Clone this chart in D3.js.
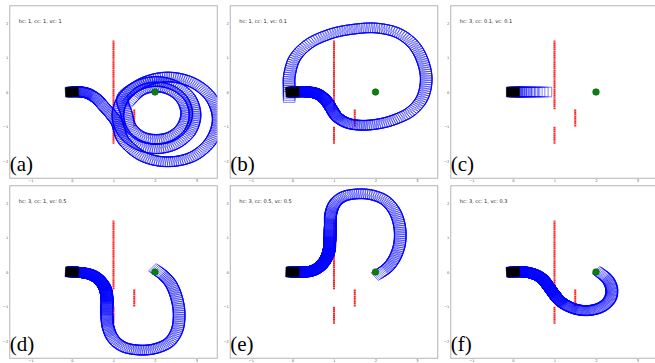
<!DOCTYPE html>
<html>
<head>
<meta charset="utf-8">
<script src="https://cdn.jsdelivr.net/npm/d3@7"></script>
<style>
  body { margin: 0; background: #fff; }
  svg { display: block; font-family: "DejaVu Sans", sans-serif; }
</style>
</head>
<body>
<div id="chart"></div>
<script>
const panelLabels = ['(a)', '(b)', '(c)', '(d)', '(e)', '(f)'];
const panelTitles = [
  'hc: 1, cc: 1, vc: 1',
  'hc: 1, cc: 1, vc: 0.1',
  'hc: 3, cc: 0.1, vc: 0.1',
  'hc: 3, cc: 1, vc: 0.5',
  'hc: 3, cc: 0.5, vc: 0.5',
  'hc: 3, cc: 1, vc: 0.3',
];
const xTicks = [-1, 0, 1, 2, 3];
const yTicks = [-2, -1, 0, 1, 2];
const target = [2, 0];
// wall pieces: [x, yFrom, yTo]
const obstacles = [[1, -0.5, 1.5], [1, -1.5, -1], [1.5, -1, -0.5]];

// trajectory waypoints: [x, y, spacing between car footprints]
const trajA = [
  [0, 0, 0.008], [0.18, 0, 0.01], [0.36, -0.04, 0.015], [0.57, -0.18, 0.022],
  [0.76, -0.41, 0.03], [0.93, -0.64, 0.036], [1.08, -0.89, 0.04], [1.24, -1.39, 0.045],
  [1.70, -1.86, 0.05], [2.30, -2.02, 0.05], [2.92, -1.86, 0.05], [3.36, -1.39, 0.05],
  [3.52, -0.79, 0.05], [3.36, -0.19, 0.05], [2.92, 0.26, 0.05], [2.30, 0.43, 0.05],
  [1.68, 0.25, 0.05], [1.24, -0.19, 0.05], [1.11, -0.67, 0.05], [1.23, -1.15, 0.05],
  [1.57, -1.51, 0.05], [2.03, -1.64, 0.05], [2.49, -1.51, 0.05], [2.84, -1.15, 0.05],
  [2.96, -0.67, 0.05], [2.84, -0.18, 0.05], [2.49, 0.17, 0.05], [2.03, 0.30, 0.05],
  [1.57, 0.17, 0.05], [1.23, -0.18, 0.05], [1.31, -0.62, 0.05], [1.41, -1.0, 0.05],
  [1.67, -1.28, 0.05], [2.03, -1.37, 0.05], [2.39, -1.28, 0.05], [2.66, -1.0, 0.05],
  [2.76, -0.62, 0.05], [2.66, -0.24, 0.05], [2.39, 0.04, 0.05], [2.03, 0.14, 0.05],
  [1.67, 0.04, 0.05], [1.41, -0.24, 0.05],
];
const trajB = [
  [0, 0, 0.006], [0.35, 0, 0.006], [0.59, -0.06, 0.007], [0.79, -0.23, 0.008],
  [0.93, -0.47, 0.01], [1.07, -0.71, 0.015], [1.31, -0.89, 0.025], [1.63, -0.96, 0.035],
  [2.03, -0.93, 0.045], [2.43, -0.81, 0.05], [2.84, -0.57, 0.055], [3.12, -0.18, 0.055],
  [3.22, 0.35, 0.055], [3.14, 0.88, 0.055], [2.92, 1.36, 0.055], [2.55, 1.70, 0.055],
  [2.03, 1.85, 0.055], [1.47, 1.82, 0.055], [0.91, 1.68, 0.055], [0.39, 1.39, 0.055],
  [0.06, 0.98, 0.055], [-0.07, 0.49, 0.055], [-0.08, 0.06, 0.055], [-0.08, -0.18, 0.055],
];
const trajC = [[0, 0, 0.012], [0.35, 0, 0.03], [0.78, 0, 0.085]];
const trajD = [
  [0, 0, 0.006], [0.22, -0.02, 0.006], [0.47, -0.09, 0.006], [0.65, -0.23, 0.006],
  [0.79, -0.47, 0.007], [0.84, -0.76, 0.009], [0.84, -1.20, 0.02], [0.87, -1.58, 0.03],
  [0.99, -1.92, 0.04], [1.23, -2.16, 0.04], [1.63, -2.26, 0.04], [2.03, -2.21, 0.042],
  [2.35, -2.02, 0.045], [2.53, -1.68, 0.045], [2.58, -1.20, 0.045], [2.51, -0.71, 0.045],
  [2.37, -0.33, 0.04], [2.19, -0.09, 0.035], [2.05, 0.04, 0.035],
];
const trajE = [
  [0, 0, 0.006], [0.22, 0, 0.006], [0.44, 0.03, 0.006], [0.63, 0.14, 0.006],
  [0.77, 0.32, 0.006], [0.87, 0.59, 0.007], [0.90, 0.93, 0.009], [0.91, 1.31, 0.015],
  [0.93, 1.70, 0.025], [1.03, 1.99, 0.035], [1.23, 2.18, 0.04], [1.55, 2.26, 0.045],
  [1.91, 2.23, 0.045], [2.23, 2.07, 0.045], [2.46, 1.75, 0.045], [2.58, 1.31, 0.045],
  [2.58, 0.83, 0.045], [2.47, 0.43, 0.042], [2.30, 0.14, 0.04], [2.10, -0.04, 0.035],
];
const trajF = [
  [0, 0, 0.006], [0.25, 0, 0.006], [0.49, -0.06, 0.006], [0.69, -0.19, 0.006],
  [0.85, -0.41, 0.006], [0.99, -0.64, 0.007], [1.13, -0.83, 0.008], [1.33, -0.99, 0.012],
  [1.61, -1.10, 0.02], [1.90, -1.10, 0.025], [2.16, -0.99, 0.028], [2.34, -0.76, 0.03],
  [2.37, -0.47, 0.03], [2.27, -0.21, 0.028], [2.11, -0.04, 0.025],
];
const trajectories = [trajA, trajB, trajC, trajD, trajE, trajF];

const width = 655, height = 363;
const panelW = 207.5, panelH = 172.5;
const colX = [9.75, 230.25, 450.75];
const rowY = [5.75, 185.75];
const carLen = 0.32, carWid = 0.28;

const svg = d3.select('#chart').append('svg')
  .attr('width', width)
  .attr('height', height);

// walk along the smoothed path and drop a car footprint every `spacing` units
function carPoses(traj, x, y, host) {
  const line = d3.line().x(d => x(d[0])).y(d => y(d[1])).curve(d3.curveCatmullRom.alpha(0.5));
  const tmp = host.append('path').attr('d', line(traj)).attr('fill', 'none');
  const node = tmp.node();
  const total = node.getTotalLength();
  const fine = [];
  for (let s = 0; s <= total; s += 0.3) {
    const p = node.getPointAtLength(s);
    fine.push([x.invert(p.x), y.invert(p.y), p.x, p.y]);
  }
  tmp.remove();

  const at = [];
  let from = 0;
  traj.forEach(w => {
    const px = x(w[0]), py = y(w[1]);
    let best = from, bd = Infinity;
    for (let k = from; k < fine.length; k++) {
      const d = Math.hypot(fine[k][2] - px, fine[k][3] - py);
      if (d < bd) { bd = d; best = k; }
      else if (bd < 1 && d > bd + 2) break;
    }
    at.push(best);
    from = best;
  });

  const spacingAt = k => {
    let i = 0;
    while (i < at.length - 2 && k >= at[i + 1]) i++;
    const span = at[i + 1] - at[i];
    const t = span > 0 ? Math.min(1, Math.max(0, (k - at[i]) / span)) : 0;
    return traj[i][2] + (traj[i + 1][2] - traj[i][2]) * t;
  };
  const heading = k => {
    const a = fine[Math.max(0, k - 3)], b = fine[Math.min(fine.length - 1, k + 3)];
    return Math.atan2(b[1] - a[1], b[0] - a[0]);
  };

  const out = [{ x: fine[0][0], y: fine[0][1], a: heading(0) }];
  let acc = 0;
  for (let k = 1; k < fine.length; k++) {
    acc += Math.hypot(fine[k][0] - fine[k - 1][0], fine[k][1] - fine[k - 1][1]);
    if (acc >= spacingAt(k)) {
      out.push({ x: fine[k][0], y: fine[k][1], a: heading(k) });
      acc = 0;
    }
  }
  return out;
}

function carCorners(p, x, y) {
  const c = Math.cos(p.a), s = Math.sin(p.a);
  const hl = carLen / 2, hw = carWid / 2;
  return [[hl, hw], [hl, -hw], [-hl, -hw], [-hl, hw]]
    .map(([u, v]) => [x(p.x + u * c - v * s), y(p.y + u * s + v * c)].join(','))
    .join(' ');
}

panelLabels.forEach((label, i) => {
  const g = svg.append('g')
    .attr('transform', `translate(${colX[i % 3]},${rowY[Math.floor(i / 3)]})`);

  const x = d3.scaleLinear().domain([-1.5, 3.5]).range([0, panelW]);
  const y = d3.scaleLinear().domain([-2.5, 2.5]).range([panelH, 0]);

  g.append('clipPath').attr('id', 'clip' + i)
    .append('rect').attr('width', panelW).attr('height', panelH);

  const plot = g.append('g').attr('clip-path', `url(#clip${i})`);

  plot.selectAll('line.wall')
    .data(obstacles)
    .join('line')
    .attr('class', 'wall')
    .attr('x1', d => x(d[0]))
    .attr('x2', d => x(d[0]))
    .attr('y1', d => y(d[1]))
    .attr('y2', d => y(d[2]))
    .attr('stroke', '#ff1f1f')
    .attr('stroke-width', 2)
    .attr('stroke-dasharray', '1.6 0.3');

  const poses = carPoses(trajectories[i], x, y, plot);

  plot.selectAll('polygon.car')
    .data(poses.slice(1))
    .join('polygon')
    .attr('class', 'car')
    .attr('points', d => carCorners(d, x, y))
    .attr('fill', 'none')
    .attr('stroke', '#0000ff')
    .attr('stroke-width', 0.5);

  plot.append('polygon')
    .attr('points', carCorners(poses[0], x, y))
    .attr('fill', '#000')
    .attr('stroke', '#000')
    .attr('stroke-width', 0.5);

  plot.append('circle')
    .attr('cx', x(target[0]))
    .attr('cy', y(target[1]))
    .attr('r', 3.3)
    .attr('fill', '#0a800a')
    .attr('stroke', '#06600a')
    .attr('stroke-width', 0.6);

  g.append('rect')
    .attr('width', panelW)
    .attr('height', panelH)
    .attr('fill', 'none')
    .attr('stroke', '#b5b5b5')
    .attr('stroke-width', 1);

  const fmt = d3.format('d');
  const xAxis = g.append('g')
    .attr('transform', `translate(0,${panelH})`)
    .call(d3.axisBottom(x).tickValues(xTicks).tickFormat(fmt).tickSize(0).tickPadding(1.5));
  const yAxis = g.append('g')
    .call(d3.axisLeft(y).tickValues(yTicks).tickFormat(fmt).tickSize(0).tickPadding(1.5));
  [xAxis, yAxis].forEach(a => {
    a.select('.domain').remove();
    a.attr('font-size', 3.6).attr('font-family', 'DejaVu Sans, sans-serif');
    a.selectAll('text').attr('fill', '#555');
  });

  g.append('text')
    .attr('x', 9)
    .attr('y', 17)
    .attr('font-size', 5)
    .attr('fill', '#222')
    .text(panelTitles[i]);

  g.append('text')
    .attr('x', 0)
    .attr('y', 165)
    .attr('font-family', '"Liberation Serif", "Times New Roman", serif')
    .attr('font-size', 21)
    .attr('fill', '#000')
    .text(label);
});
</script>
</body>
</html>
